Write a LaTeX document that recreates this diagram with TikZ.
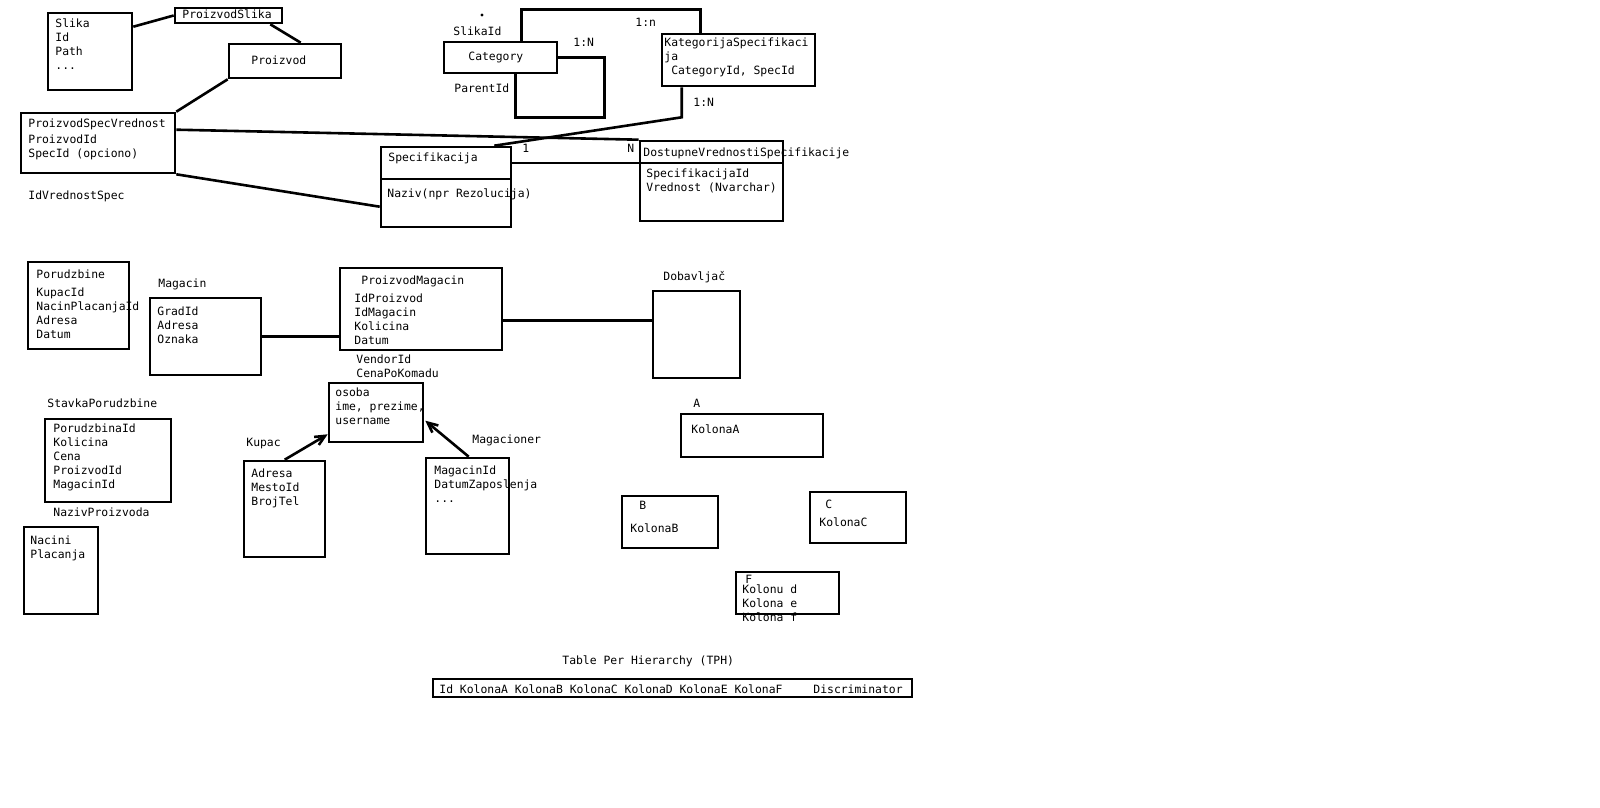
\documentclass[tikz,border=0pt]{standalone}
\usepackage{fontspec}
\setmainfont{DejaVu Sans Mono}
\usetikzlibrary{fit,calc,arrows.meta}
\begin{document}
\begin{tikzpicture}[x=0.5pt,y=-0.5pt,
  tbl/.style={draw,line width=1.3pt,inner sep=0pt},
  txt/.style={inner sep=0pt,anchor=base west,align=left,font=\fontsize{5.7}{7}\selectfont},
  blk/.style={txt,anchor=north west,yshift=4.9pt,execute at begin node=\strut},
  conn/.style={line width=1.3pt},
  isa/.style={conn,-{Straight Barb[angle'=50,length=5pt]}}]
\fill[white] (0,0) rectangle (1600,808);
\useasboundingbox (0,0) rectangle (1600,808);
% proizvodi i specifikacije
\node[blk] (slikaT) at (55,28) {Slika\\Id\\Path\\...};
\node[tbl,fit={(48,13) (132,90)}] (slika) {};
\node[txt] (pslikaT) at (182,19) {ProizvodSlika};
\node[tbl,fit={(175,8) (282,23)}] (pslika) {};
\node[txt] (proizvodT) at (251,65) {Proizvod};
\node[tbl,fit={(229,44) (341,78)}] (proizvod) {};
\node[txt] (psvT) at (28,127) {ProizvodSpecVrednost};
\node[blk] (psvF) at (28,144) {ProizvodId\\SpecId (opciono)};
\node[tbl,fit={(21,113) (175,173)}] (psv) {};
\node[txt] (idvs) at (28,199) {IdVrednostSpec};
\node[txt] (specT) at (388,162) {Specifikacija};
\node[txt] (specN) at (387,197) {Naziv(npr Rezolucija)};
\node[tbl,fit={(381,147) (511,179)}] (spec) {};
\node[tbl,fit={(381,179) (511,227)}] (specF) {};
\node[txt] (dostT) at (643,156) {DostupneVrednostiSpecifikacije};
\node[blk] (dostN) at (646,178) {SpecifikacijaId\\Vrednost (Nvarchar)};
\node[tbl,fit={(640,141) (783,163)}] (dost) {};
\node[tbl,fit={(640,163) (783,221)}] (dostF) {};
\node[txt] (catT) at (468,61) {Category};
\node[tbl,fit={(444,42) (557,73)}] (cat) {};
\node[blk] (katT) at (664,47) {KategorijaSpecifikaci\\ja\\~CategoryId, SpecId};
\node[tbl,fit={(662,34) (815,86)}] (katspec) {};
\node[txt] (slikaId) at (453,36) {SlikaId};
\node[txt] (parentId) at (454,93) {ParentId};
\node[txt] (kCat) at (573,47) {1:N};
\node[txt] (kKat) at (635,27) {1:n};
\node[txt] (kSpec) at (693,106) {1:N};
\node[txt] (kOne) at (522,153) {1};
\node[txt] (kMany) at (627,153) {N};
\fill (482,15) circle (0.8pt);
\draw[conn] (slika.north east) ++(0,15) -- (pslika.west);
\draw[conn] (pslika.south east) ++(-13,0) -- ($(proizvod.north west)+(73,0)$);
\draw[conn] (proizvod.south west) -- (psv.north east);
\draw[conn] (psv.north east) ++(0,18) -- (dost.north west);
\draw[conn] (psv.south east) -- ($(specF.north west)+(0,29)$);
\draw[conn] (spec.east) -- (spec.east -| dost.west);
\draw[conn] (katspec.south west) ++(21,0) -- ++(0,30) -- ($(spec.north east)+(-18,0)$);
\draw[conn] (cat.east) -- ++(46,0) -- ++(0,60) -| ($(cat.south west)+(73,0)$);
\draw[conn] ($(cat.north west)+(79,0)$) -- ++(0,-31) -| ($(katspec.north west)+(40,0)$);
% porudzbine i magacin
\node[txt] (porT) at (36,278) {Porudzbine};
\node[blk] (porF) at (36,297) {KupacId\\NacinPlacanjaId\\Adresa\\Datum};
\node[tbl,fit={(28,262) (129,349)}] (porudzbine) {};
\node[txt] (magT) at (158,287) {Magacin};
\node[blk] (magF) at (157,316) {GradId\\Adresa\\Oznaka};
\node[tbl,fit={(150,298) (261,375)}] (magacin) {};
\node[txt] (pmT) at (361,284) {ProizvodMagacin};
\node[blk] (pmF) at (354,303) {IdProizvod\\IdMagacin\\Kolicina\\Datum};
\node[tbl,fit={(340,268) (502,350)}] (pm) {};
\node[blk] (pmV) at (356,364) {VendorId\\CenaPoKomadu};
\node[txt] (dobT) at (663,280) {Dobavljač};
\node[tbl,fit={(653,291) (740,378)}] (dobavljac) {};
\coordinate (pmd) at ($(pm.south east)+(0,-31)$);
\draw[conn] (magacin.east) -- (magacin.east -| pm.west);
\draw[conn] (pmd) -- (pmd -| dobavljac.west);
\node[txt] (stavT) at (47,407) {StavkaPorudzbine};
\node[blk] (stavF) at (53,433) {PorudzbinaId\\Kolicina\\Cena\\ProizvodId\\MagacinId};
\node[tbl,fit={(45,419) (171,502)}] (stavka) {};
\node[txt] (nazivP) at (53,516) {NazivProizvoda};
\node[blk] (naciniT) at (30,545) {Nacini\\Placanja};
\node[tbl,fit={(24,527) (98,614)}] (nacini) {};
% osobe
\node[blk] (osobaT) at (335,397) {osoba\\ime, prezime,\\username};
\node[tbl,fit={(329,383) (423,442)}] (osoba) {};
\node[txt] (kupacT) at (246,446) {Kupac};
\node[blk] (kupacF) at (251,478) {Adresa\\MestoId\\BrojTel};
\node[tbl,fit={(244,461) (325,557)}] (kupac) {};
\node[txt] (magcT) at (472,443) {Magacioner};
\node[blk] (magcF) at (434,475) {MagacinId\\DatumZaposlenja\\...};
\node[tbl,fit={(426,458) (509,554)}] (magacioner) {};
\draw[isa] ($(kupac.north west)+(42,0)$) -- ($(osoba.south west)+(0,-9)$);
\draw[isa] ($(magacioner.north west)+(44,0)$) -- ($(osoba.north east)+(1,39)$);
% TPH
\node[txt] (aT) at (693,407) {A};
\node[txt] (aF) at (691,433) {KolonaA};
\node[tbl,fit={(681,414) (823,457)}] (tblA) {};
\node[txt] (bT) at (639,509) {B};
\node[txt] (bF) at (630,532) {KolonaB};
\node[tbl,fit={(622,496) (718,548)}] (tblB) {};
\node[txt] (cT) at (825,508) {C};
\node[txt] (cF) at (819,526) {KolonaC};
\node[tbl,fit={(810,492) (906,543)}] (tblC) {};
\node[txt] (fT) at (745,583) {F};
\node[blk] (fF) at (742,594) {Kolonu d\\Kolona e\\Kolona f};
\node[tbl,fit={(736,572) (839,614)}] (tblF) {};
\node[txt] (tphT) at (562,664) {Table Per Hierarchy (TPH)};
\node[txt] (tphF) at (439,693) {Id KolonaA KolonaB KolonaC KolonaD KolonaE KolonaF};
\node[txt] (tphD) at (813,693) {Discriminator};
\node[tbl,fit={(433,679) (912,697)}] (tph) {};
\end{tikzpicture}
\end{document}
